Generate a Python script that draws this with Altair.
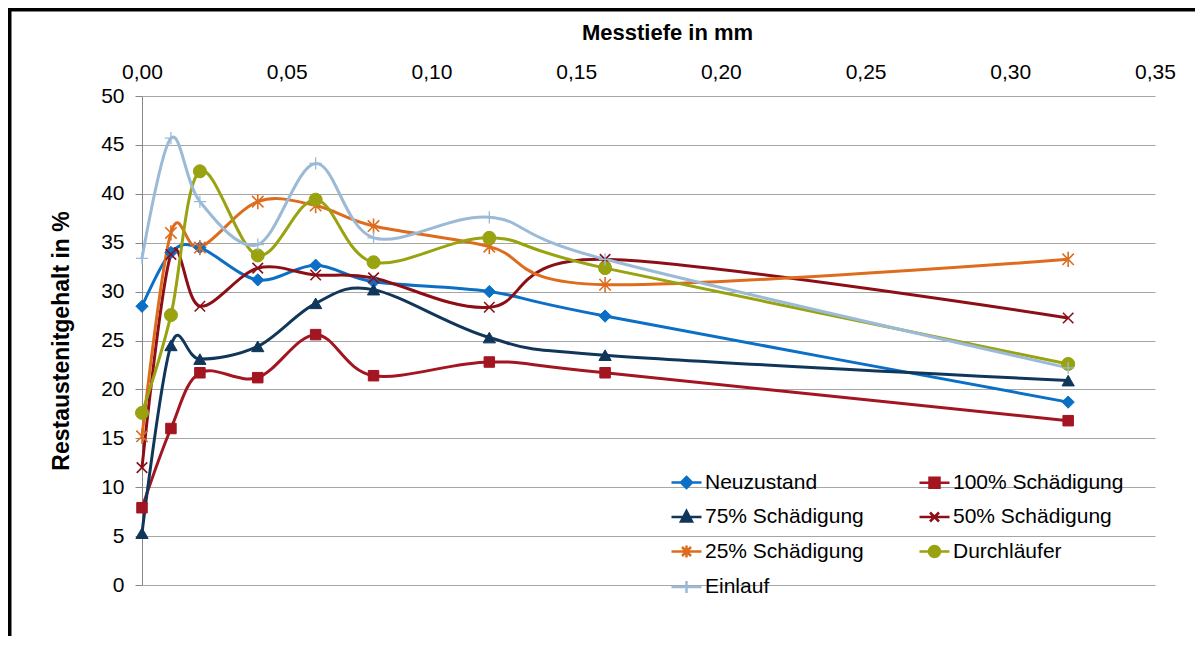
import altair as alt
import pandas as pd

# ---------------- data ----------------
depth = [0.00, 0.01, 0.02, 0.04, 0.06, 0.08, 0.12, 0.16, 0.32]
series_names = ["Neuzustand", "100% Schädigung", "75% Schädigung", "50% Schädigung",
                "25% Schädigung", "Durchläufer", "Einlauf"]
neuzustand = [28.5, 34.0, 34.5, 31.2, 32.7, 31.0, 30.0, 27.5, 18.7]
schaed_100 = [7.9, 16.0, 21.7, 21.2, 25.6, 21.4, 22.8, 21.7, 16.8]
schaed_75 = [5.3, 24.5, 23.1, 24.4, 28.8, 30.2, 25.3, 23.5, 20.9]
schaed_50 = [12.0, 33.8, 28.5, 32.4, 31.7, 31.4, 28.4, 33.3, 27.3]
schaed_25 = [15.2, 36.0, 34.5, 39.2, 38.8, 36.7, 34.6, 30.7, 33.3]
durchlaeufer = [17.6, 27.6, 42.3, 33.7, 39.4, 33.0, 35.5, 32.4, 22.6]
einlauf = [33.4, 45.7, 39.2, 34.8, 43.1, 35.5, 37.6, 33.3, 22.2]
all_values = [neuzustand, schaed_100, schaed_75, schaed_50, schaed_25, durchlaeufer, einlauf]
x_ticks = [0.0, 0.05, 0.10, 0.15, 0.20, 0.25, 0.30, 0.35]
y_ticks = [0, 5, 10, 15, 20, 25, 30, 35, 40, 45, 50]

rows = []
for name, vals in zip(series_names, all_values):
    for d, v in zip(depth, vals):
        rows.append({"Serie": name, "Messtiefe": d, "Wert": v})
df = pd.DataFrame(rows)

# ---------------- styles ----------------
colors = ["#0B6FC6", "#A31520", "#10365A", "#8C0F17", "#DD6C1E", "#99A20F", "#9BBAD6"]
X_PATH = "M-1,-1L1,1M-1,1L1,-1"
AST_PATH = "M-1,-1L1,1M-1,1L1,-1M0,-1.35V1.35"
PLUS_PATH = "M-1,0H1M0,-1V1"
marker_shapes = ["diamond", "square", "triangle-up", X_PATH, AST_PATH, "circle", PLUS_PATH]
marker_sizes = [150, 110, 150, 110, 130, 170, 150]
marker_filled = [True, True, True, False, False, True, False]
marker_stroke = [1, 1, 1, 1.6, 1.6, 1, 1.3]

LINE = "M-3,0H3"
legend_shapes = [
    LINE + "M0,-1.1L1.1,0L0,1.1L-1.1,0Z",
    LINE + "M-1,-1H1V1H-1Z",
    LINE + "M0,-1.2L1.1,0.9H-1.1Z",
    LINE + "M-0.9,-0.9L0.9,0.9M-0.9,0.9L0.9,-0.9",
    LINE + "M-0.9,-0.9L0.9,0.9M-0.9,0.9L0.9,-0.9M0,-1.2V1.2",
    LINE + "M-1.1,0A1.1,1.1 0 1,0 1.1,0A1.1,1.1 0 1,0 -1.1,0Z",
    LINE + "M0,-1.2V1.2",
]

FONT = "Liberation Sans"

x_enc = alt.X(
    "Messtiefe:Q",
    scale=alt.Scale(domain=[0, 0.35], nice=False, zero=False),
    axis=alt.Axis(
        orient="top", values=x_ticks,
        labelExpr="replace(format(datum.value, '.2f'), '.', ',')",
        grid=False, domain=False, ticks=False, tickSize=0,
        labelPadding=14, labelFontSize=21, labelColor="black", labelFlush=False,
        title="Messtiefe in mm", titleFontSize=22, titleFontWeight="bold",
        titleColor="black", titlePadding=17, titleX=525, titleAlign="center",
    ),
)
y_enc = alt.Y(
    "Wert:Q",
    scale=alt.Scale(domain=[0, 50], nice=False),
    axis=alt.Axis(
        values=y_ticks, grid=True, gridColor="#a6a6a6", gridWidth=1,
        domainColor="#868686", domainWidth=1, tickColor="#868686", tickSize=7,
        labelPadding=11, labelFontSize=21, labelColor="black",
        title="Restaustenitgehalt in %", titleFontSize=23, titleFontWeight="bold",
        titleColor="black", titlePadding=27,
    ),
)

color_scale = alt.Scale(domain=series_names, range=colors)

frame = alt.Chart(pd.DataFrame({"f": [0]})).mark_rect(
    filled=False, color="black", strokeWidth=4
).encode(
    x=alt.value(-132.5), x2=alt.value(1200), y=alt.value(-86.5), y2=alt.value(700)
)

lines = alt.Chart(df).mark_line(interpolate="cardinal", strokeWidth=3).encode(
    x=x_enc, y=y_enc,
    color=alt.Color("Serie:N", scale=color_scale, sort=series_names),
)

point_layers = []
for name, col, shp, sz, filled, sw in zip(series_names, colors, marker_shapes,
                                           marker_sizes, marker_filled, marker_stroke):
    if filled:
        mk = alt.Chart(df).mark_point(shape=shp, size=sz, filled=True, fill=col,
                                      stroke=col, strokeWidth=sw, opacity=1)
    else:
        mk = alt.Chart(df).mark_point(shape=shp, size=sz, filled=False,
                                      stroke=col, strokeWidth=sw, opacity=1)
    point_layers.append(
        mk.transform_filter(alt.datum.Serie == name).encode(x=x_enc, y=y_enc)
    )

legend_layer = alt.Chart(df).mark_point(opacity=0, filled=False).encode(
    x=x_enc, y=y_enc,
    color=alt.Color(
        "Serie:N", scale=color_scale, sort=series_names,
        legend=alt.Legend(
            orient="none", legendX=534, legendY=376, columns=2, direction="horizontal",
            title=None,
            labelFontSize=21, labelFont=FONT, labelColor="black", labelLimit=400,
            symbolSize=100, symbolStrokeWidth=2.5, labelOffset=8,
            rowPadding=12.5, columnPadding=50, symbolOpacity=1, padding=0,
        ),
    ),
    fill=alt.Fill("Serie:N", scale=alt.Scale(domain=series_names, range=colors),
                  sort=series_names),
    shape=alt.Shape("Serie:N", scale=alt.Scale(domain=series_names, range=legend_shapes),
                    sort=series_names),
)

chart = alt.layer(frame, lines, *point_layers, legend_layer).properties(
    width=1013, height=489,
    autosize=alt.AutoSizeParams(type="none"),
    padding={"left": 134, "top": 88, "right": 40, "bottom": 51},
).configure(font=FONT).configure_view(strokeWidth=0)

chart.save("out.html", embed_options={"renderer": "svg", "actions": False})
